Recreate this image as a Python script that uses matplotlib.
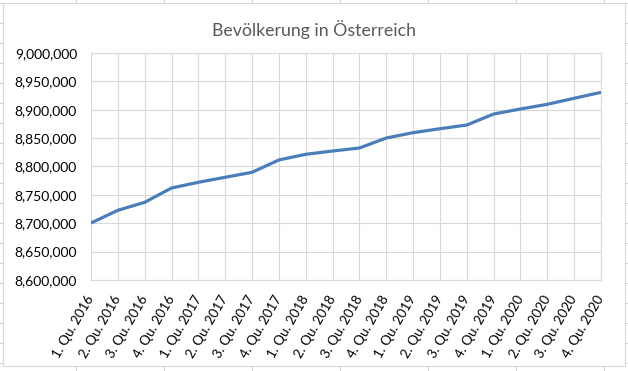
import numpy as np
import matplotlib
matplotlib.use("Agg")
import matplotlib.pyplot as plt
from matplotlib.lines import Line2D
from matplotlib.patches import Rectangle
from matplotlib.ticker import FuncFormatter, MultipleLocator

plt.rcParams['font.family'] = ['Lato', 'DejaVu Sans']

title = "Bevölkerung in Österreich"
quarters = ["1. Qu.", "2. Qu.", "3. Qu.", "4. Qu."]
years = [2016, 2017, 2018, 2019, 2020]
categories = [f"{q} {y}" for y in years for q in quarters]
population = [8700440, 8722800, 8736900, 8762100,
              8772200, 8781000, 8789800, 8811500,
              8821500, 8827300, 8832600, 8850200,
              8859600, 8866600, 8873100, 8892500,
              8901300, 8909600, 8920200, 8930700]
y_min, y_max, y_step = 8600000, 9000000, 50000

W, H = 628, 371
fig = plt.figure(figsize=(W / 100, H / 100), dpi=100)
fig.patch.set_facecolor('white')

# Excel sheet cell grid in the margins (decorative background)
cell = '#D4D4D4'
for xv in range(76, W, 88):
    fig.add_artist(Line2D([xv / W, xv / W], [1 - 3 / H, 1], color=cell, lw=0.8))
    fig.add_artist(Line2D([xv / W, xv / W], [0, 1 - 366 / H], color=cell, lw=0.8))
for yv in range(3, H, 20):
    fig.add_artist(Line2D([0, 3 / W], [1 - yv / H, 1 - yv / H], color=cell, lw=0.8))
    fig.add_artist(Line2D([625 / W, 1], [1 - yv / H, 1 - yv / H], color=cell, lw=0.8))
# chart area border
fig.add_artist(Rectangle((3 / W, 1 - 366 / H), 622 / W, 363 / H,
                         transform=fig.transFigure, facecolor='white',
                         edgecolor='#D9D9D9', lw=0.8, zorder=0))

ax = fig.add_axes([91 / W, 1 - 280 / H, 510 / W, 227 / H])
x = np.arange(len(categories))
ax.plot(x, population, color='#4A7EBB', lw=2.3, solid_joinstyle='round',
        solid_capstyle='butt', zorder=3)

ax.set_xlim(0, len(categories) - 1)
ax.set_ylim(y_min, y_max)
ax.yaxis.set_major_locator(MultipleLocator(y_step))
ax.yaxis.set_major_formatter(FuncFormatter(lambda v, p: f"{int(round(v)):,}"))
ax.set_xticks(x)
ax.set_xticklabels(categories, rotation=60, ha='right', va='center',
                   rotation_mode='anchor')
ax.tick_params(axis='x', length=0, pad=12, labelsize=9.6, colors='black')
ax.tick_params(axis='y', length=0, pad=10, labelsize=10, colors='black')
for lbl in ax.get_xticklabels():
    lbl.set_color('black')

ax.grid(True, color='#D9D9D9', lw=0.8, zorder=0)
ax.set_axisbelow(True)
for s in ax.spines.values():
    s.set_color('#D9D9D9')
    s.set_linewidth(0.8)

fig.text(0.5, 1 - 30 / H, title, ha='center', va='center',
         fontsize=12.8, color='#595959')

fig.savefig('out.png', dpi=100)
